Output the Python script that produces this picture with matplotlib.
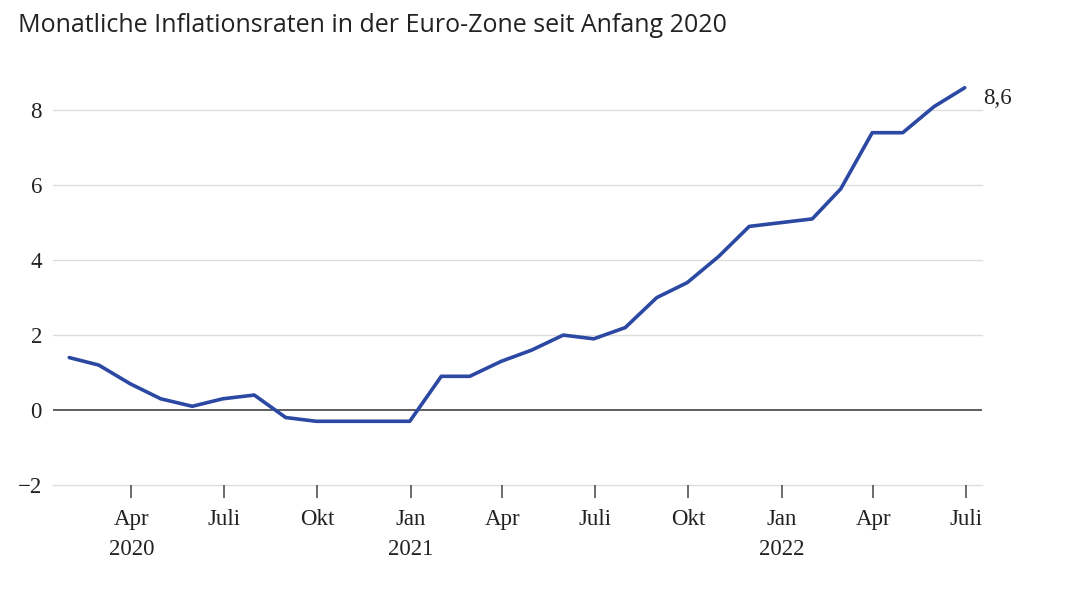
import matplotlib
matplotlib.use("Agg")
import matplotlib.pyplot as plt
import pandas as pd

# monthly HICP inflation, euro zone (in %), Jan 2020 - Jun 2022
months = pd.date_range("2020-01-31", "2022-06-30", freq="ME")
rates = [1.4, 1.2, 0.7, 0.3, 0.1, 0.3, 0.4, -0.2, -0.3, -0.3, -0.3, -0.3,
         0.9, 0.9, 1.3, 1.6, 2.0, 1.9, 2.2, 3.0, 3.4, 4.1, 4.9, 5.0,
         5.1, 5.9, 7.4, 7.4, 8.1, 8.6]

tick_dates = pd.date_range("2020-04-01", "2022-07-01", freq="3MS")
tick_labels = ["Apr\n2020", "Juli", "Okt", "Jan\n2021", "Apr", "Juli", "Okt",
               "Jan\n2022", "Apr", "Juli"]
yticks = [-2, 0, 2, 4, 6, 8]
ytick_labels = ["\u22122", "0", "2", "4", "6", "8"]

serif = ["Liberation Serif", "DejaVu Serif"]
line_color = "#2b48a3"
fs = 16.5

fig = plt.figure(figsize=(10.66, 6), dpi=100)
ax = fig.add_axes([53 / 1066, 1 - 485 / 600, (982 - 53) / 1066, (485 - 54) / 600])

ax.plot(months, rates, color=line_color, lw=2.6, solid_capstyle="round",
        solid_joinstyle="round", zorder=3)

ax.set_ylim(-2, 9.5)
ax.set_xlim(pd.Timestamp("2020-01-15"), pd.Timestamp("2022-07-17"))

ax.set_yticks(yticks)
ax.set_yticklabels(ytick_labels, family=serif, fontsize=fs, color="#222222")
for y in yticks:
    if y == 0:
        ax.axhline(y, color="#333333", lw=1.1, zorder=2)
    else:
        ax.axhline(y, color="#dddddd", lw=1, zorder=1, clip_on=False)
ax.tick_params(axis="y", length=0, pad=8)

ax.set_xticks(tick_dates)
ax.set_xticklabels(tick_labels, family=serif, fontsize=fs, color="#222222",
                   linespacing=1.6, va="top")
ax.tick_params(axis="x", length=9, width=1.1, color="#444444", pad=8)

for s in ax.spines.values():
    s.set_visible(False)

ax.annotate("8,6", (months[-1], rates[-1]), xytext=(13, -8),
            textcoords="offset points", family=serif, fontsize=fs,
            color="#222222", va="center", ha="left", annotation_clip=False)

fig.text(18 / 1066, 1 - 26 / 600,
         "Monatliche Inflationsraten in der Euro-Zone seit Anfang 2020",
         family=["Open Sans", "DejaVu Sans"], fontsize=18, color="#222222",
         va="center", ha="left")

fig.savefig("out.png", dpi=100, facecolor="white")
